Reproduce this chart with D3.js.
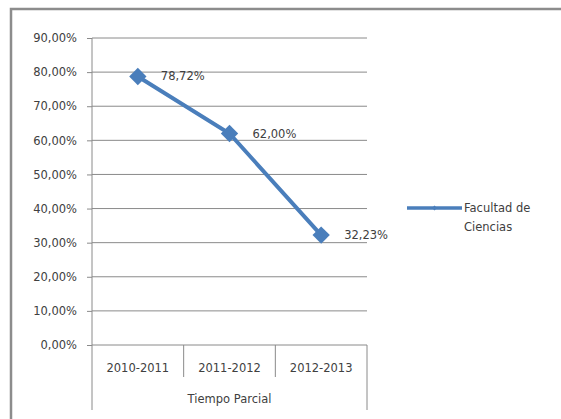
<!DOCTYPE html>
<html><head><meta charset="utf-8">
<script src="https://cdn.jsdelivr.net/npm/d3@7"></script>
<style>body{margin:0;background:#fff}text{font-family:"DejaVu Sans",sans-serif;fill:#404040}</style>
</head><body><svg id="c" width="561" height="419"></svg>
<script>
const categories = ["2010-2011", "2011-2012", "2012-2013"];
const groupLabel = "Tiempo Parcial";
const seriesName = ["Facultad de", "Ciencias"];
const values = [0.7872, 0.62, 0.3223];
const valueLabels = ["78,72%", "62,00%", "32,23%"];
const yTicks = [0, 0.1, 0.2, 0.3, 0.4, 0.5, 0.6, 0.7, 0.8, 0.9];

const FS = 11.5;
const svg = d3.select("#c");
// outer chart border
svg.append("rect").attr("x", 11).attr("y", 9).attr("width", 600).attr("height", 500)
  .attr("fill", "#fff").attr("stroke", "#8c8c8c").attr("stroke-width", 2.5);

const x0 = 92, x1 = 367, yTop = 38, yBot = 345;
const y = d3.scaleLinear().domain([0, 0.9]).range([yBot, yTop]);
const x = d3.scaleBand().domain(categories).range([x0, x1]);
const fmt = v => d3.format(".2f")(v * 100).replace(".", ",") + "%";

// gridlines
svg.append("g").selectAll("line").data(yTicks.filter(d => d > 0)).join("line")
  .attr("x1", x0).attr("x2", x1).attr("y1", d => y(d)).attr("y2", d => y(d))
  .attr("stroke", "#8a8a8a").attr("stroke-width", 1);

// y axis
const ya = svg.append("g").attr("transform", `translate(${x0},0)`)
  .call(d3.axisLeft(y).tickValues(yTicks).tickFormat(fmt).tickSize(5).tickPadding(10));
ya.select(".domain").remove();
ya.selectAll("line").attr("stroke", "#8a8a8a");
ya.selectAll("text").attr("font-size", FS).attr("font-family", "DejaVu Sans").attr("fill", "#404040");
svg.append("line").attr("x1", x0).attr("x2", x0).attr("y1", yTop).attr("y2", 410)
  .attr("stroke", "#8a8a8a");

// x axis baseline and category separators
svg.append("line").attr("x1", x0).attr("x2", x1).attr("y1", yBot).attr("y2", yBot).attr("stroke", "#8a8a8a");
svg.append("line").attr("x1", x1).attr("x2", x1).attr("y1", yBot).attr("y2", 410).attr("stroke", "#8a8a8a");
svg.append("g").selectAll("line").data(categories.slice(1)).join("line")
  .attr("x1", d => x(d)).attr("x2", d => x(d)).attr("y1", yBot).attr("y2", 377)
  .attr("stroke", "#8a8a8a");
svg.append("g").selectAll("text").data(categories).join("text")
  .attr("x", d => x(d) + x.bandwidth() / 2).attr("y", 372)
  .attr("text-anchor", "middle").attr("font-size", FS).text(d => d);
svg.append("text").attr("x", (x0 + x1) / 2).attr("y", 403).attr("text-anchor", "middle")
  .attr("font-size", FS).text(groupLabel);

// line
const color = "#4a7ebb";
const pts = categories.map((c, i) => [x(c) + x.bandwidth() / 2, y(values[i])]);
svg.append("path").attr("d", d3.line()(pts)).attr("fill", "none")
  .attr("stroke", color).attr("stroke-width", 4);
svg.append("g").selectAll("path").data(pts).join("path")
  .attr("transform", d => `translate(${d[0]},${d[1]}) rotate(45)`)
  .attr("d", d3.symbol(d3.symbolSquare, 150)).attr("fill", color);
svg.append("g").selectAll("text").data(pts).join("text")
  .attr("x", d => d[0] + 23).attr("y", d => d[1] + 4)
  .attr("font-size", FS).text((d, i) => valueLabels[i]);

// legend
svg.append("line").attr("x1", 407).attr("x2", 462).attr("y1", 208).attr("y2", 208)
  .attr("stroke", color).attr("stroke-width", 3.5);
svg.append("path").attr("transform", "translate(434.5,208) rotate(45)")
  .attr("d", d3.symbol(d3.symbolSquare, 12)).attr("fill", color);
svg.append("g").selectAll("text").data(seriesName).join("text")
  .attr("x", 464).attr("y", (d, i) => 212 + i * 19).attr("font-size", FS).text(d => d);
</script></body></html>
